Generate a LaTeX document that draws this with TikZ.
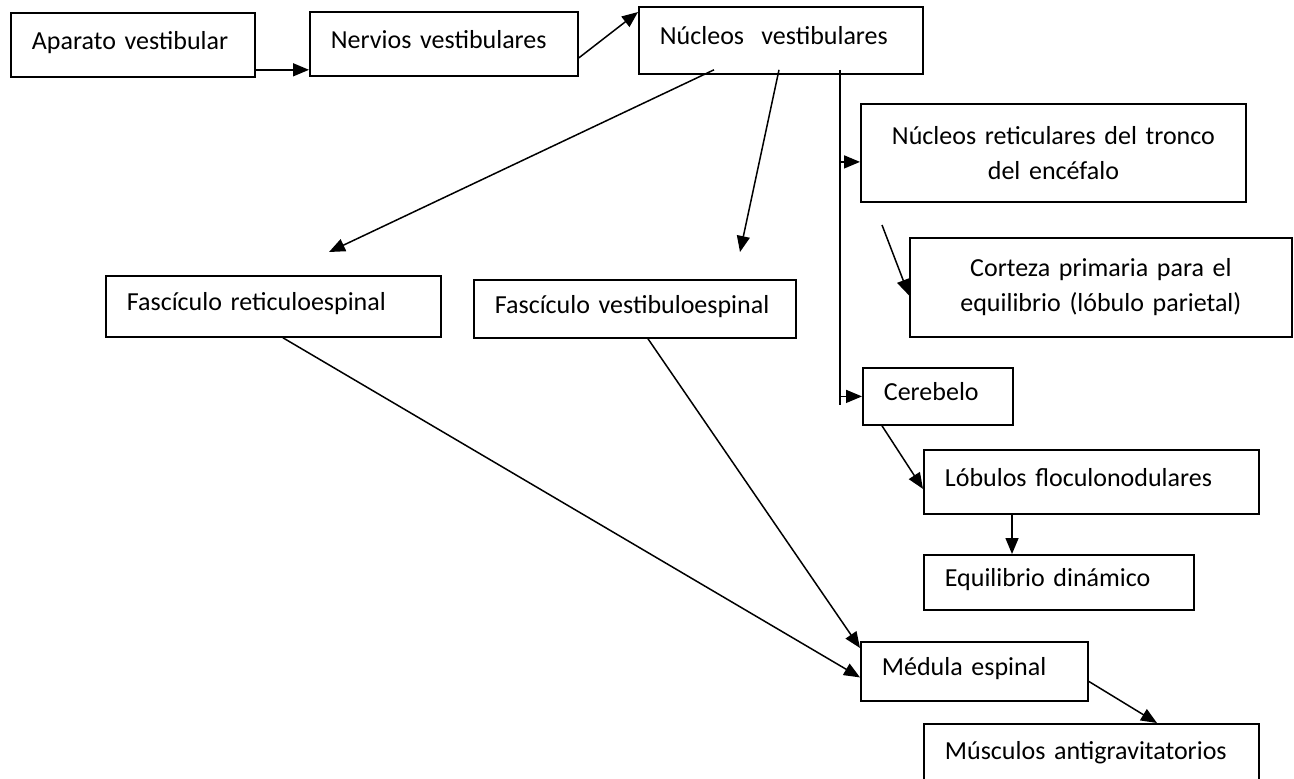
\documentclass[tikz,border=0pt]{standalone}
\usepackage{fontspec}
\setmainfont{Carlito}
\usetikzlibrary{arrows.meta,positioning,calc}

\begin{document}
\begin{tikzpicture}[x=0.5pt,y=-0.5pt,font=\fontsize{13}{17.5}\selectfont]
    \tikzset{caja/.style={draw,line width=0.9pt,anchor=north west,
      inner xsep=10.5pt,inner ysep=0pt},
      flecha/.style={line width=0.75pt,-{Triangle[length=8pt,width=6.5pt]}}}
    \useasboundingbox (0,0) rectangle (1294,778);

    % Cajas de una linea
    \foreach \x/\y/\w/\h/\id/\txt in {10/12/244/64/apa/Aparato vestibular,
        309/11/268/64/ner/Nervios vestibulares,
        638/6/284/67/nuc/Núcleos\ \ vestibulares,
        862/367/150/57/cer/Cerebelo,
        923/449/335/64/lob/Lóbulos floculonodulares,
        923/554/270/55/equ/Equilibrio dinámico,
        860/641/227/59/med/Médula espinal,
        923/723/335/62/mus/Músculos antigravitatorios,
        105/275/335/61/fre/Fascículo reticuloespinal,
        473/279/322/58/fve/Fascículo vestibuloespinal}{
      \pgfmathsetlengthmacro\mw{\w*0.5pt}
      \pgfmathsetlengthmacro\mh{\h*0.5pt}
      \pgfmathsetlengthmacro\tw{\w*0.5pt-21pt}
      \node[caja,minimum width=\mw,minimum height=\mh,text width=\tw,align=left,
        text height=9pt,text depth=4.5pt] (\id) at (\x,\y) {\txt};
    }

    % Cajas de dos lineas
    \node[caja,minimum width=192.5pt,minimum height=49pt,text width=171.5pt,align=center]
      (ret) at (860,103) {Núcleos reticulares del tronco\\del encéfalo};
    \node[caja,minimum width=191pt,minimum height=49.5pt,text width=170pt,align=center]
      (cor) at (909,237) {Corteza primaria para el\\equilibrio (lóbulo parietal)};

    % Puntos libres
    \coordinate (tronco) at ([shift={(101pt,2.5pt)}]nuc.south west);
    \coordinate (tronco-fin) at (840,405);
    \coordinate (pfre) at (329,252);
    \coordinate (pfve) at (740,252);
    \coordinate (pcor) at (882,225);
    \coordinate (a1) at ([yshift=4pt]apa.south east);
    \coordinate (r1) at ([yshift=-4.5pt]ret.west);
    \coordinate (l1) at ([xshift=44.5pt]lob.south west);

    % Conectores
    \draw[flecha] (a1) -- (a1 -| ner.west);
    \draw[flecha] ([yshift=-7pt]ner.east) -- ([yshift=-3pt]nuc.north west);
    \draw[flecha] ([shift={(38pt,2.5pt)}]nuc.south west) -- (pfre);
    \draw[flecha] ([shift={(70.5pt,2.5pt)}]nuc.south west) -- (pfve);
    \draw[line width=0.75pt] (tronco) -- (tronco-fin);
    \draw[flecha] (tronco |- r1) -- (r1);
    \draw[flecha] (pcor) -- ([yshift=-4pt]cor.west);
    \draw[flecha] (tronco |- cer.west) -- (cer.west);
    \draw[flecha] ([xshift=10pt]cer.south west) -- ([yshift=-3.5pt]lob.west);
    \draw[flecha] (l1) -- (l1 |- equ.north);
    \draw[flecha] ([xshift=87.5pt]fve.south west) -- ([yshift=-3.5pt]med.north west);
    \draw[flecha] ([xshift=89pt]fre.south west) -- ([yshift=-3pt]med.west);
    \draw[flecha] ([yshift=-5pt]med.east) -- ([xshift=117pt]mus.north west);
  \end{tikzpicture}
\end{document}
